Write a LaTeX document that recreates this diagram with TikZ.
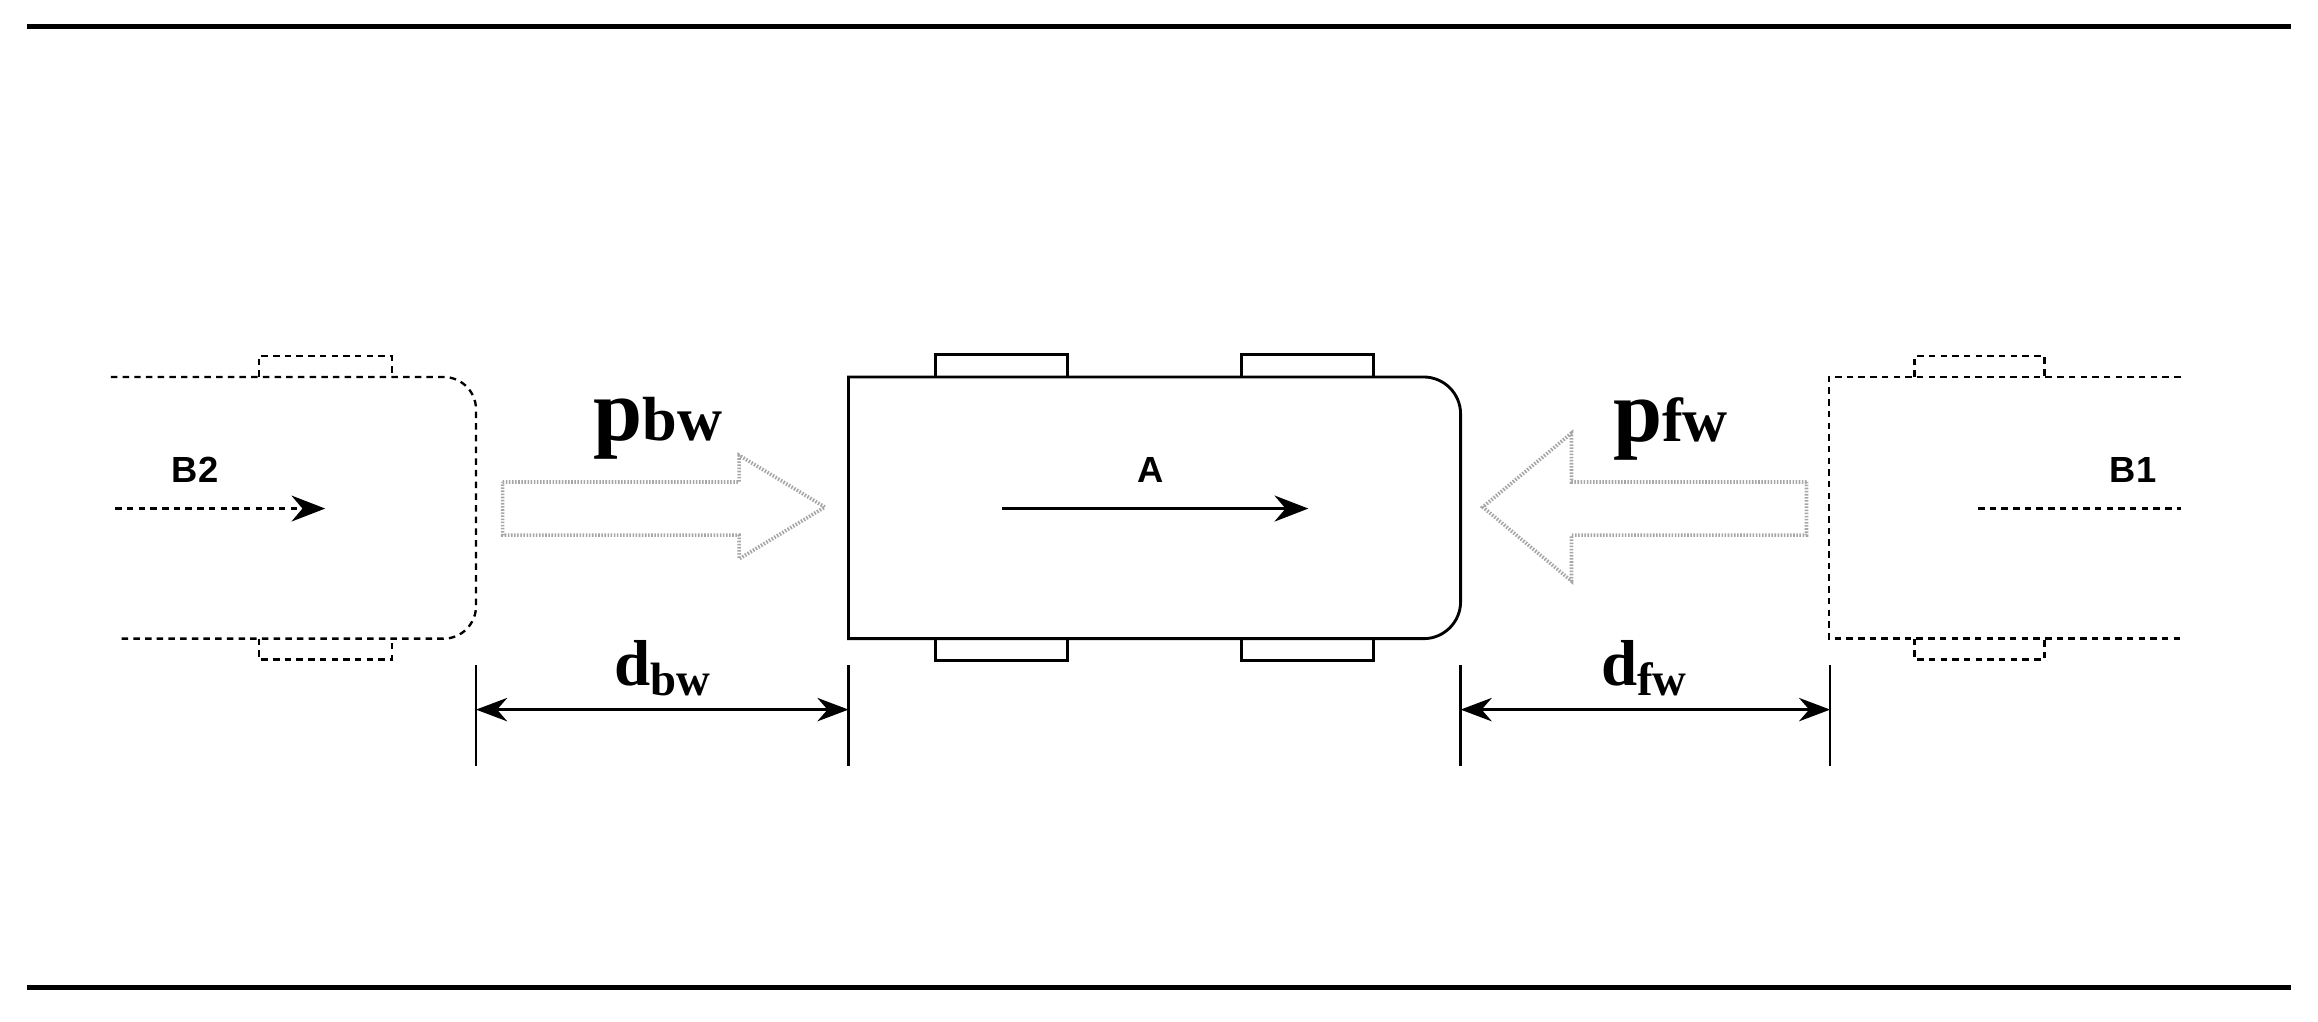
\documentclass[tikz,border=0pt]{standalone}
\usepackage{fontspec}
\setmainfont{Liberation Serif}
\newfontfamily\sansf{Liberation Sans}
\usetikzlibrary{arrows.meta}
\begin{document}
\begin{tikzpicture}[x=0.02cm,y=-0.02cm,
  road/.style={line width=2.2pt},
  solidcar/.style={line width=1.1pt},
  dcar/.style={line width=0.9pt,dash pattern=on 2.5pt off 2pt},
  block/.style={draw=gray!70,line width=1.4pt,dash pattern=on 0.6pt off 0.6pt,fill=white},
  lab/.style={font=\sansf\bfseries\fontsize{14}{16}\selectfont},
  plab/.style={font=\bfseries\fontsize{34}{36}\selectfont},
  dlab/.style={font=\bfseries\fontsize{25}{28}\selectfont},
  dim/.style={line width=1.2pt,{Stealth[length=12pt,width=9pt]}-{Stealth[length=12pt,width=9pt]}},
  tick/.style={line width=1pt}]
\useasboundingbox (0,0) rectangle (1568,691);
% road
\draw[road] (18,18) -- (1550,18);
\draw[road] (18,668) -- (1550,668);
% car A
\draw[solidcar] (633,255) rectangle (722,240);
\draw[solidcar] (840,255) rectangle (929,240);
\draw[solidcar] (633,432) rectangle (722,447);
\draw[solidcar] (840,432) rectangle (929,447);
\draw[solidcar,fill=white] (574,432) -- (574,255) -- (800,255) [rounded corners=0.5cm] -- (988,255) -- (988,432) -- (800,432) [sharp corners] -- (574,432) -- cycle;
\coordinate (a1) at (678,344); \coordinate (a2) at (885,344);
\draw[line width=1.2pt,-{Stealth[length=13pt,width=10pt]}] (a1) -- (a2);
\node[lab] (A) at (778,318) {A};
% car B2
\draw[dcar] (175,255) -- (175,241) -- (265,241) -- (265,255);
\draw[dcar] (175,432) -- (175,446) -- (265,446) -- (265,432);
\draw[dcar] (75,255) -- (200,255) [rounded corners=0.44cm] -- (322,255) -- (322,432) -- (200,432) [sharp corners] -- (80,432);
\coordinate (b21) at (78,344); \coordinate (b22) at (220,344);
\draw[dcar,-{Stealth[length=13pt,width=10pt]}] (b21) -- (b22);
\node[lab] (B2) at (132,318) {B2};
% car B1
\draw[dcar] (1295,255) -- (1295,241) -- (1383,241) -- (1383,255);
\draw[dcar] (1295,432) -- (1295,446) -- (1383,446) -- (1383,432);
\draw[dcar] (1475,255) -- (1237,255) -- (1237,432) -- (1475,432);
\coordinate (b11) at (1338,344); \coordinate (b12) at (1475,344);
\draw[dcar] (b11) -- (b12);
\node[lab] (B1) at (1443,318) {B1};
% block arrows
\draw[block] (340,326) -- (500,326) -- (500,308) -- (558,343) -- (500,378) -- (500,362) -- (340,362) -- cycle;
\draw[block] (1222,326) -- (1063,326) -- (1063,293) -- (1003,343) -- (1063,393) -- (1063,362) -- (1222,362) -- cycle;
\node[plab] (pbw) at (445,290) {p{\fontsize{24}{26}\selectfont bw}};
\node[plab] (pfw) at (1130,290) {p{\fontsize{24}{26}\selectfont fw}};
% dimensions
\coordinate (t1a) at (322,450); \coordinate (t1b) at (322,518);
\coordinate (t2a) at (574,450); \coordinate (t2b) at (574,518);
\coordinate (t3a) at (988,450); \coordinate (t3b) at (988,518);
\coordinate (t4a) at (1238,450); \coordinate (t4b) at (1238,518);
\draw[tick] (t1a) -- (t1b); \draw[tick] (t2a) -- (t2b);
\draw[tick] (t3a) -- (t3b); \draw[tick] (t4a) -- (t4b);
\coordinate (d1) at (322,480); \coordinate (d2) at (574,480);
\coordinate (d3) at (988,480); \coordinate (d4) at (1238,480);
\draw[dim] (d1) -- (d2);
\draw[dim] (d3) -- (d4);
\node[dlab] (dbw) at (448,452) {d\raisebox{-0.15em}{\fontsize{18}{20}\selectfont bw}};
\node[dlab] (dfw) at (1112,452) {d\raisebox{-0.15em}{\fontsize{18}{20}\selectfont fw}};
\end{tikzpicture}
\end{document}
